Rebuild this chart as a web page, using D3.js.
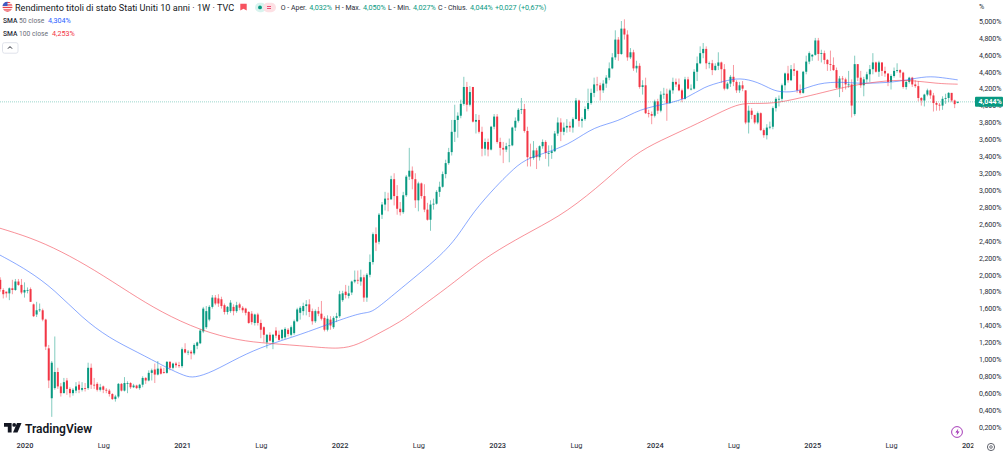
<!DOCTYPE html>
<html lang="it">
<head>
<meta charset="utf-8">
<title>Rendimento titoli di stato Stati Uniti 10 anni</title>
<script src="https://cdnjs.cloudflare.com/ajax/libs/d3/7.9.0/d3.min.js"></script>
<style>
  html, body { margin: 0; padding: 0; background: #fff; overflow: hidden; }
  svg { display: block; }
  text { font-family: Roboto, "Noto Sans", sans-serif; }
</style>
</head>
<body>
<svg id="chart" width="1004" height="452"></svg>
<script>
// Weekly bars: eight weeks of late 2019, then one block per calendar year (13 values per row).
const opens = [
  1.94,1.82,1.80,1.78,1.84,1.82,1.92,1.88,
  1.79,1.82,1.83,1.65,1.53,1.58,1.58,1.47,1.13,.54,.66,.85,.68,
  .60,.75,.65,.60,.63,.70,.64,.66,.66,.90,.70,.71,.64,
  .68,.64,.63,.59,.53,.56,.71,.63,.72,.72,.67,.69,.66,
  .70,.78,.75,.84,.88,.82,.89,.85,.84,.97,.90,.95,.93,
  .92,1.12,1.09,1.09,1.07,1.16,1.19,1.33,1.38,1.47,1.62,1.73,1.72,
  1.71,1.64,1.56,1.57,1.62,1.57,1.65,1.61,1.60,1.56,1.54,1.43,1.53,
  1.43,1.38,1.20,1.29,1.20,1.34,1.29,1.25,1.26,1.35,1.29,1.31,1.45,
  1.55,1.57,1.63,1.65,1.57,1.45,1.57,1.54,1.49,1.35,1.47,1.38,1.49,
  1.51,1.70,1.80,1.75,1.79,1.92,1.94,1.92,1.97,1.73,2.00,2.15,2.48,
  2.39,2.71,2.83,2.90,2.89,3.13,2.93,2.78,2.74,2.94,3.16,3.23,3.13,
  2.88,3.08,2.93,2.77,2.65,2.83,2.84,2.98,3.04,3.19,3.32,3.45,3.69,
  3.83,3.88,4.02,4.22,4.01,4.22,3.81,3.83,3.69,3.49,3.57,3.48,3.75,
  3.87,3.57,3.50,3.48,3.52,3.53,3.74,3.82,3.95,3.96,3.70,3.39,3.38,
  3.47,3.39,3.52,3.57,3.44,3.44,3.46,3.67,3.80,3.69,3.74,3.76,3.74,
  3.84,4.06,3.82,3.84,3.96,4.03,4.15,4.25,4.24,4.18,4.26,4.33,4.44,
  4.57,4.78,4.61,4.91,4.84,4.57,4.63,4.44,4.47,4.22,4.24,3.91,3.90,
  3.88,4.05,3.94,4.13,4.14,4.03,4.18,4.28,4.25,4.18,4.08,4.31,4.20,
  4.20,4.40,4.50,4.62,4.67,4.50,4.50,4.42,4.47,4.51,4.43,4.20,4.26,
  4.34,4.28,4.18,4.24,4.18,3.80,3.94,3.89,3.80,3.91,3.71,3.65,3.74,
  3.75,3.97,4.08,4.08,4.24,4.38,4.30,4.43,4.41,4.18,4.15,4.40,4.52,
  4.58,4.60,4.77,4.61,4.62,4.54,4.49,4.48,4.42,4.21,4.32,4.31,4.25,
  4.25,3.90,4.49,4.33,4.24,4.31,4.37,4.43,4.51,4.40,4.51,4.41,4.38,
  4.28,4.35,4.41,4.42,4.39,4.22,4.28,4.33,4.25,4.23,4.09,4.06,4.13,
  4.18,4.12,4.03,4.01,4.00,4.08,4.09,4.15,4.06,4.032
];
const highs = [
  1.97,1.84,1.80,1.85,1.94,1.95,1.95,1.95,
  1.91,1.85,1.85,1.66,1.68,1.66,1.60,1.48,1.17,.98,1.27,.90,.72,
  .78,.78,.67,.66,.73,.74,.73,.72,.96,.95,.78,.73,.71,
  .69,.66,.65,.60,.58,.72,.72,.79,.74,.73,.71,.70,.71,
  .80,.79,.87,.89,.95,.98,.92,.90,.98,.98,.96,.97,.97,
  1.14,1.19,1.11,1.11,1.19,1.21,1.36,1.62,1.63,1.64,1.76,1.76,1.77,
  1.74,1.66,1.63,1.70,1.65,1.68,1.67,1.63,1.61,1.57,1.57,1.54,1.55,
  1.47,1.39,1.30,1.32,1.30,1.38,1.34,1.35,1.38,1.37,1.40,1.47,1.61,
  1.63,1.67,1.70,1.71,1.60,1.59,1.62,1.69,1.51,1.52,1.51,1.51,1.55,
  1.81,1.81,1.88,1.87,1.93,2.05,2.05,2.06,2.00,2.02,2.24,2.50,2.56,
  2.73,2.86,2.98,2.97,3.17,3.20,3.06,2.86,2.98,3.18,3.50,3.28,3.20,
  3.10,3.09,3.07,2.85,2.88,2.90,3.00,3.10,3.22,3.36,3.50,3.83,4.01,
  3.92,4.07,4.34,4.28,4.23,4.22,3.90,3.89,3.75,3.61,3.61,3.76,3.90,
  3.90,3.62,3.57,3.56,3.61,3.75,3.86,3.97,4.09,4.02,3.75,3.55,3.58,
  3.50,3.53,3.60,3.59,3.53,3.53,3.70,3.86,3.85,3.80,3.84,3.81,3.86,
  4.09,4.07,3.86,3.99,4.20,4.20,4.33,4.34,4.27,4.30,4.36,4.51,4.62,
  4.89,4.81,5.00,5.02,4.89,4.68,4.66,4.53,4.50,4.30,4.33,3.95,3.93,
  4.07,4.08,4.17,4.21,4.20,4.20,4.33,4.32,4.32,4.20,4.34,4.34,4.25,
  4.43,4.58,4.70,4.74,4.70,4.52,4.54,4.50,4.63,4.52,4.49,4.28,4.36,
  4.48,4.30,4.28,4.29,4.18,4.00,3.97,3.89,3.93,3.92,3.73,3.78,3.81,
  3.99,4.10,4.12,4.26,4.39,4.47,4.48,4.50,4.42,4.25,4.41,4.59,4.64,
  4.61,4.80,4.80,4.66,4.65,4.55,4.65,4.57,4.45,4.35,4.35,4.33,4.41,
  4.31,4.59,4.49,4.41,4.34,4.40,4.48,4.62,4.52,4.53,4.51,4.46,4.37,
  4.37,4.45,4.50,4.43,4.40,4.30,4.34,4.34,4.30,4.29,4.10,4.14,4.20,
  4.19,4.15,4.05,4.03,4.11,4.14,4.16,4.15,4.07,4.050
];
const lows = [
  1.80,1.72,1.73,1.70,1.77,1.81,1.87,1.77,
  1.73,1.78,1.68,1.50,1.50,1.56,1.45,1.11,.66,.32,.64,.65,.56,
  .60,.58,.55,.57,.60,.60,.62,.62,.64,.65,.65,.62,.62,
  .60,.60,.56,.52,.50,.54,.62,.62,.60,.65,.66,.65,.64,
  .67,.71,.74,.75,.72,.81,.82,.83,.83,.87,.88,.90,.90,
  .90,1.07,1.05,1.00,1.05,1.12,1.18,1.31,1.36,1.45,1.60,1.64,1.62,
  1.60,1.53,1.53,1.55,1.52,1.55,1.58,1.55,1.52,1.42,1.41,1.40,1.40,
  1.25,1.20,1.13,1.21,1.12,1.25,1.22,1.23,1.24,1.27,1.27,1.29,1.44,
  1.47,1.52,1.52,1.50,1.41,1.43,1.51,1.46,1.33,1.33,1.35,1.36,1.44,
  1.49,1.68,1.72,1.72,1.76,1.90,1.89,1.87,1.68,1.68,1.97,2.12,2.28,
  2.36,2.66,2.76,2.75,2.90,2.82,2.71,2.70,2.72,2.92,3.12,3.01,2.79,
  2.75,2.90,2.74,2.64,2.52,2.77,2.83,2.92,3.03,3.14,3.30,3.41,3.57,
  3.62,3.85,4.00,3.93,3.99,3.80,3.67,3.67,3.40,3.41,3.40,3.47,3.72,
  3.55,3.41,3.32,3.45,3.33,3.52,3.70,3.80,3.90,3.68,3.28,3.28,3.36,
  3.25,3.35,3.49,3.37,3.28,3.37,3.45,3.64,3.58,3.65,3.68,3.69,3.68,
  3.84,3.75,3.74,3.82,3.94,4.01,4.10,4.17,4.06,4.15,4.21,4.30,4.43,
  4.54,4.53,4.60,4.78,4.53,4.55,4.41,4.39,4.20,4.13,3.90,3.86,3.78,
  3.86,3.90,3.92,4.08,3.82,4.02,4.14,4.22,4.17,4.04,4.07,4.19,4.18,
  4.19,4.29,4.49,4.56,4.43,4.44,4.36,4.41,4.42,4.27,4.18,4.19,4.22,
  4.23,4.15,4.15,4.17,3.78,3.67,3.84,3.78,3.78,3.70,3.62,3.60,3.72,
  3.72,3.93,3.99,4.05,4.18,4.27,4.29,4.35,4.15,4.13,4.14,4.37,4.49,
  4.53,4.59,4.53,4.51,4.49,4.41,4.41,4.41,4.20,4.10,4.16,4.19,4.21,
  3.86,3.88,4.29,4.21,4.11,4.27,4.28,4.37,4.39,4.34,4.35,4.34,4.23,
  4.19,4.33,4.39,4.33,4.20,4.19,4.26,4.22,4.21,4.05,4.00,3.99,4.11,
  4.08,3.93,3.94,3.94,3.95,4.02,4.04,4.04,3.97,4.027
];
const closes = [
  1.83,1.77,1.78,1.84,1.82,1.92,1.88,1.79,
  1.82,1.82,1.68,1.51,1.58,1.59,1.47,1.15,.75,.96,.85,.68,.60,
  .73,.65,.60,.64,.68,.64,.66,.65,.90,.70,.69,.64,.67,
  .64,.63,.59,.53,.56,.71,.63,.72,.72,.67,.69,.66,.70,
  .78,.75,.84,.87,.82,.89,.83,.84,.97,.90,.95,.93,.92,
  1.12,1.08,1.09,1.07,1.17,1.20,1.34,1.60,1.57,1.62,1.73,1.66,1.66,
  1.63,1.56,1.62,1.67,1.57,1.64,1.61,1.58,1.55,1.43,1.44,1.53,1.43,
  1.35,1.29,1.29,1.22,1.29,1.28,1.23,1.35,1.36,1.30,1.38,1.45,1.59,
  1.61,1.63,1.65,1.56,1.45,1.57,1.54,1.48,1.35,1.48,1.40,1.49,1.51,
  1.77,1.78,1.76,1.78,1.92,1.94,1.93,1.97,1.73,2.00,2.15,2.48,2.38,
  2.71,2.83,2.90,2.89,3.13,2.93,2.78,2.74,2.94,3.16,3.23,3.13,2.88,
  3.08,2.93,2.77,2.65,2.83,2.84,2.98,3.04,3.19,3.32,3.45,3.69,3.83,
  3.88,4.02,4.22,4.01,4.16,3.81,3.83,3.69,3.49,3.57,3.48,3.75,3.87,
  3.57,3.50,3.48,3.52,3.53,3.74,3.82,3.95,3.96,3.70,3.39,3.38,3.47,
  3.39,3.52,3.57,3.44,3.44,3.46,3.67,3.80,3.69,3.74,3.76,3.74,3.84,
  4.06,3.82,3.84,3.96,4.03,4.15,4.25,4.24,4.18,4.26,4.33,4.44,4.57,
  4.78,4.61,4.91,4.84,4.57,4.63,4.44,4.47,4.22,4.24,3.91,3.90,3.88,
  4.05,3.94,4.13,4.14,4.03,4.18,4.28,4.25,4.18,4.08,4.31,4.20,4.20,
  4.40,4.50,4.62,4.67,4.50,4.50,4.42,4.47,4.51,4.43,4.20,4.26,4.34,
  4.28,4.18,4.24,4.20,3.80,3.94,3.89,3.80,3.91,3.71,3.65,3.74,3.75,
  3.97,4.08,4.08,4.24,4.38,4.30,4.43,4.41,4.18,4.15,4.40,4.52,4.62,
  4.60,4.77,4.61,4.62,4.54,4.49,4.48,4.42,4.21,4.32,4.31,4.25,4.25,
  4.00,4.49,4.33,4.24,4.31,4.37,4.43,4.51,4.40,4.51,4.41,4.38,4.28,
  4.35,4.41,4.42,4.39,4.22,4.28,4.33,4.25,4.23,4.09,4.06,4.13,4.18,
  4.12,4.03,4.01,4.00,4.08,4.09,4.15,4.06,4.017,4.044
];
const firstWeek = -8; // bars start eight weeks before the first week of 2020

// Moving averages, stored as week number / level pairs.
const sma50Weeks = [-9,1,10,19,28,37,47,53,56,62,71,80,91,102,111,114,117,125,137,143,148,156,160,165,174,181,188,196,203,212,219,224,231,236,242,247,250,255,262,270,275,285,291,298,303,308];
const sma50Values = [2.25,2.057,1.82,1.49,1.25,1.09,.90,.80,.78,.85,1.03,1.17,1.29,1.44,1.55,1.55,1.62,1.86,2.21,2.45,2.74,3.06,3.20,3.37,3.46,3.57,3.75,3.81,3.96,4.02,4.09,4.22,4.29,4.33,4.28,4.18,4.16,4.16,4.27,4.28,4.26,4.27,4.30,4.35,4.33,4.304];
const sma100Weeks = [-9,2,12,23,35,45,58,71,80,95,104,110,117,124,130,140,148,156,168,179,192,201,210,220,229,235,239,247,256,263,273,285,293,301,308];
const sma100Values = [2.56,2.44,2.28,2.06,1.78,1.56,1.34,1.22,1.19,1.15,1.12,1.17,1.31,1.44,1.60,1.86,2.09,2.29,2.53,2.74,3.12,3.42,3.59,3.75,3.91,4.01,4.03,4.02,4.09,4.15,4.24,4.30,4.30,4.26,4.253];

// Axis ticks.
const yTicks = [.2,.4,.6,.8,1,1.2,1.4,1.6,1.8,2,2.2,2.4,2.6,2.8,3,3.2,3.4,3.6,3.8,4,4.2,4.4,4.6,4.8,5];
const xTickWeeks = [0,26,52,78,104,130,156,182,208,234,260,286,312];
const xTickLabels = ["2020","Lug","2021","Lug","2022","Lug","2023","Lug","2024","Lug","2025","Lug","2026"];

// Header text.
const headerTitle = "Rendimento titoli di stato Stati Uniti 10 anni · 1W · TVC";
const ohlcLabels = ["O - Aper.", "H - Max.", "L - Min.", "C - Chius."];
const ohlcValues = [4.032, 4.050, 4.027, 4.044];
const lastChange = "+0,027 (+0,67%)";
const smaLegend = [["SMA", "50 close", 4.304], ["SMA", "100 close", 4.253]];

const TEAL = "#089981", RED = "#F23645", BLUE = "#2962FF", INK = "#2a2e39", MUTED = "#6a6d78";

const svg = d3.select("#chart");
const x = d3.scaleLinear().domain([0, 308]).range([24.5, 957.7]);
const y = d3.scaleLinear().domain([0.2, 5]).range([427, 21]);
const italian = d3.formatLocale({ decimal: ",", thousands: ".", grouping: [3], currency: ["", ""] });
const pct = v => italian.format(".3f")(v) + "%";
const last = closes[closes.length - 1];

const defs = svg.append("defs");
defs.append("clipPath").attr("id", "pane")
  .append("rect").attr("x", 0).attr("y", 0).attr("width", 975).attr("height", 452);
defs.append("clipPath").attr("id", "timeScale")
  .append("rect").attr("x", 0).attr("y", 436).attr("width", 973.5).attr("height", 16);

const pane = svg.append("g").attr("clip-path", "url(#pane)");

// Dotted level of the latest close.
pane.append("line")
  .attr("x1", 0).attr("x2", 975).attr("y1", y(last)).attr("y2", y(last))
  .attr("stroke", TEAL).attr("stroke-opacity", 0.4).attr("stroke-dasharray", "1 1");

// Candles.
const bars = d3.zip(opens, highs, lows, closes).map(([o, h, l, c], i) => ({ w: i + firstWeek, o, h, l, c }));
const tone = d => (d.c >= d.o ? TEAL : RED);
const candle = pane.append("g").selectAll("g").data(bars).join("g");
candle.append("line")
  .attr("x1", d => x(d.w)).attr("x2", d => x(d.w))
  .attr("y1", d => y(d.h)).attr("y2", d => y(d.l))
  .attr("stroke", tone).attr("stroke-opacity", 0.5).attr("stroke-width", 1);
candle.append("rect")
  .attr("x", d => x(d.w) - 1).attr("width", 2)
  .attr("y", d => y(Math.max(d.o, d.c)))
  .attr("height", d => Math.max(0.8, Math.abs(y(d.o) - y(d.c))))
  .attr("fill", tone);

// Moving averages.
const smaLine = d3.line().x(d => x(d[0])).y(d => y(d[1])).curve(d3.curveBasis);
[[sma50Weeks, sma50Values, BLUE], [sma100Weeks, sma100Values, RED]].forEach(([w, v, color]) => {
  pane.append("path").datum(d3.zip(w, v))
    .attr("d", smaLine).attr("fill", "none")
    .attr("stroke", color).attr("stroke-opacity", 0.55).attr("stroke-width", 1);
});

// Price axis on the right.
const yAxis = svg.append("g").attr("transform", "translate(977,0)")
  .call(d3.axisRight(y).tickValues(yTicks).tickFormat(pct).tickSize(0).tickPadding(2));
yAxis.select(".domain").remove();
yAxis.selectAll("text").attr("fill", INK).attr("font-size", 7.1).attr("font-family", "Roboto, sans-serif");
svg.append("text").attr("x", 979).attr("y", 9).attr("font-size", 7.1).attr("fill", INK).text("%");

// Latest price tag.
svg.append("rect").attr("x", 975).attr("y", y(last) - 5).attr("width", 28).attr("height", 10).attr("rx", 1).attr("fill", TEAL);
svg.append("text").attr("x", 978.5).attr("y", y(last) + 2.6)
  .attr("font-size", 7.1).attr("font-weight", 700).attr("fill", "#fff").text(pct(last));

// Time axis, cut off where the price scale begins.
const xAxis = svg.append("g").attr("clip-path", "url(#timeScale)").append("g").attr("transform", "translate(0,444)")
  .call(d3.axisBottom(x).tickValues(xTickWeeks).tickFormat((d, i) => xTickLabels[i]).tickSize(0).tickPadding(0));
xAxis.select(".domain").remove();
xAxis.selectAll("text")
  .attr("fill", INK).attr("font-size", 7.4).attr("font-family", "Roboto, sans-serif")
  .attr("font-weight", (d, i) => (xTickLabels[i] === "Lug" ? 400 : 500))
  .attr("dy", "0.6em");

// Header: flag and title.
defs.append("clipPath").attr("id", "flag").append("circle").attr("cx", 7.5).attr("cy", 6.8).attr("r", 5);
const flag = svg.append("g").attr("clip-path", "url(#flag)");
flag.append("rect").attr("x", 2).attr("y", 1).attr("width", 11).attr("height", 11).attr("fill", "#fff");
[1.8, 4.3, 6.8, 9.3, 11].forEach(t => flag.append("rect").attr("x", 2).attr("y", t).attr("width", 11).attr("height", 1.3).attr("fill", "#e8404a"));
flag.append("rect").attr("x", 2).attr("y", 1).attr("width", 5.5).attr("height", 5).attr("fill", "#3c5cc4");

svg.append("text").attr("x", 15).attr("y", 10.8).attr("font-size", 9.15).attr("fill", "#131722").text(headerTitle);

// Header: market-closed marker and status pill.
svg.append("path").attr("d", "M240.3 3.8h6.4v6.8l-3.2-1.8-3.2 1.8z").attr("fill", "#f7525f");
svg.append("rect").attr("x", 255).attr("y", 2.8).attr("width", 11).attr("height", 9.4).attr("rx", 4.7).attr("fill", "#d8f3ee");
svg.append("rect").attr("x", 263).attr("y", 2.8).attr("width", 13).attr("height", 9.4).attr("rx", 4.7).attr("fill", "#fde0e4");
svg.append("circle").attr("cx", 260).attr("cy", 7.4).attr("r", 1.9).attr("fill", TEAL);
[6.1, 8.1].forEach(t => svg.append("rect").attr("x", 267).attr("y", t).attr("width", 4).attr("height", 0.9).attr("fill", "#e8406a"));

// Header: open, high, low, close readout.
const readoutLabelAt = [280.7, 335, 388, 438], readoutValueAt = [309.3, 363, 413, 470];
ohlcLabels.forEach((label, i) => {
  svg.append("text").attr("x", readoutLabelAt[i]).attr("y", 10).attr("font-size", 7).attr("fill", INK).text(label);
  svg.append("text").attr("x", readoutValueAt[i]).attr("y", 10).attr("font-size", 7.2).attr("fill", TEAL).text(pct(ohlcValues[i]));
});
svg.append("text").attr("x", 495).attr("y", 10).attr("font-size", 7.2).attr("fill", TEAL).text(lastChange);

// Moving-average legend.
smaLegend.forEach(([name, source, value], i) => {
  const rowY = 22.8 + i * 13.3;
  const row = svg.append("text").attr("x", 3).attr("y", rowY).attr("font-size", 6.7);
  row.append("tspan").attr("fill", INK).attr("font-weight", 500).text(name);
  row.append("tspan").attr("dx", 1.7).attr("fill", MUTED).text(source);
  svg.append("text").attr("x", i ? 52 : 48).attr("y", rowY).attr("font-size", 7.2)
    .attr("fill", i ? RED : BLUE).text(pct(value));
});

// Collapse button under the legend.
svg.append("rect").attr("x", 2.5).attr("y", 42.7).attr("width", 15.5).attr("height", 10.5).attr("rx", 2)
  .attr("fill", "#fff").attr("stroke", "#e0e3eb");
svg.append("path").attr("d", "M8 48.6l2-2 2 2").attr("fill", "none").attr("stroke", "#131722").attr("stroke-width", 1);

// Brand mark bottom left.
const mark = svg.append("g").attr("transform", "translate(4,423)").attr("fill", "#131722");
mark.append("path").attr("d", "M0 0h7.6v9.6H3.8V3.8H0z");
mark.append("circle").attr("cx", 10.2).attr("cy", 1.9).attr("r", 1.9);
mark.append("path").attr("d", "M13 0h4.5l-4 9.6H9z");
svg.append("text").attr("x", 25).attr("y", 432.5).attr("font-size", 12).attr("font-weight", 600)
  .attr("font-family", "Inter, Roboto, sans-serif").attr("fill", "#131722").text("TradingView");

// Bolt badge and settings gear in the bottom corner.
svg.append("circle").attr("cx", 957).attr("cy", 432).attr("r", 5.4).attr("fill", "#fff").attr("stroke", "#9c27b0").attr("stroke-width", 0.9);
svg.append("path").attr("d", "M958.4 428.6l-3 4h2l-.9 2.9 3-4h-2z").attr("fill", "#9c27b0");
svg.append("circle").attr("cx", 991).attr("cy", 447).attr("r", 3.6).attr("fill", "none").attr("stroke", "#50535e").attr("stroke-width", 0.9);
svg.append("circle").attr("cx", 991).attr("cy", 447).attr("r", 1.3).attr("fill", "none").attr("stroke", "#50535e").attr("stroke-width", 0.8);
</script>
</body>
</html>
